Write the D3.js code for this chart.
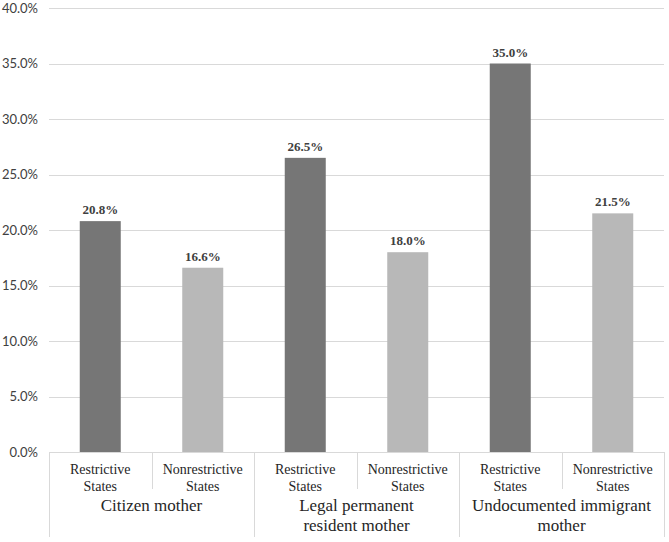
<!DOCTYPE html>
<html><head><meta charset="utf-8">
<script src="https://cdn.jsdelivr.net/npm/d3@7"></script>
<style>body{margin:0;background:#fff}
.serif{font-family:"Liberation Serif","Times New Roman",Times,Tinos,"Noto Serif","DejaVu Serif","FreeSerif","Nimbus Roman","Noto Serif CJK SC",serif}
</style>
</head><body>
<svg id="c" width="669" height="542"></svg>
<script>
const groups = ["Citizen mother", "Legal permanent resident mother", "Undocumented immigrant mother"];
const groupLines = [["Citizen mother"], ["Legal permanent", "resident mother"], ["Undocumented immigrant", "mother"]];
const subcats = ["Restrictive States", "Nonrestrictive States"];
const subLines = [["Restrictive", "States"], ["Nonrestrictive", "States"]];
const values = [20.8, 16.6, 26.5, 18.0, 35.0, 21.5];
const yTicks = [0, 5, 10, 15, 20, 25, 30, 35, 40];
const colors = ["#767676", "#b8b8b8"];

const data = [];
groups.forEach((g, gi) => subcats.forEach((s, si) => data.push({g, gi, s, si, v: values[gi * 2 + si]})));

const svg = d3.select("#c");
const L = 49, R = 664, T = 8, B = 452;
const x = d3.scaleBand().domain(d3.range(data.length)).range([L, R]).paddingInner(0.6).paddingOuter(0.3);
const xb = d3.scaleBand().domain(d3.range(data.length)).range([L, R]);
const y = d3.scaleLinear().domain([0, 40]).range([B, T]);

svg.append("g").selectAll("line").data(yTicks).join("line")
  .attr("x1", L).attr("x2", R).attr("y1", d => Math.round(y(d)) + 0.5).attr("y2", d => Math.round(y(d)) + 0.5)
  .attr("stroke", "#d9d9d9").attr("stroke-width", 1);

svg.append("g").selectAll("text").data(yTicks).join("text")
  .attr("x", 38).attr("y", d => y(d)).attr("dy", "0.35em").attr("text-anchor", "end")
  .attr("font-family", "Lato, 'Open Sans', sans-serif").attr("font-size", 13).attr("fill", "#404040")
  .text(d => d.toFixed(1) + "%");

svg.append("g").selectAll("rect").data(data).join("rect")
  .attr("x", (d, i) => x(i)).attr("width", x.bandwidth())
  .attr("y", d => y(d.v)).attr("height", d => B - y(d.v))
  .attr("fill", d => colors[d.si]);

svg.append("g").attr("class", "serif").selectAll("text").data(data).join("text")
  .attr("x", (d, i) => x(i) + x.bandwidth() / 2).attr("y", d => y(d.v) - 7)
  .attr("text-anchor", "middle")
  .attr("font-weight", "bold").attr("font-size", 13).attr("fill", "#404040")
  .text(d => d.v.toFixed(1) + "%");

const ax = svg.append("g").attr("stroke", "#d9d9d9").attr("stroke-width", 1);
d3.range(data.length + 1).forEach(i => {
  const xx = Math.round(i < data.length ? xb(i) : R) + 0.5;
  const full = i % 2 === 0;
  ax.append("line").attr("x1", xx).attr("x2", xx).attr("y1", B).attr("y2", full ? 537 : 489);
});

const sub = svg.append("g").attr("class", "serif").attr("font-size", 14).attr("fill", "#262626").attr("text-anchor", "middle");
data.forEach((d, i) => {
  subLines[d.si].forEach((t, li) => {
    sub.append("text").attr("x", xb(i) + xb.bandwidth() / 2).attr("y", 474 + li * 17).text(t);
  });
});

const gl = svg.append("g").attr("class", "serif").attr("font-size", 17).attr("fill", "#262626").attr("text-anchor", "middle");
groups.forEach((g, gi) => {
  const cx = xb(gi * 2) + xb.bandwidth();
  groupLines[gi].forEach((t, li) => {
    gl.append("text").attr("x", cx).attr("y", 511 + li * 20).text(t);
  });
});
</script>
</body></html>
